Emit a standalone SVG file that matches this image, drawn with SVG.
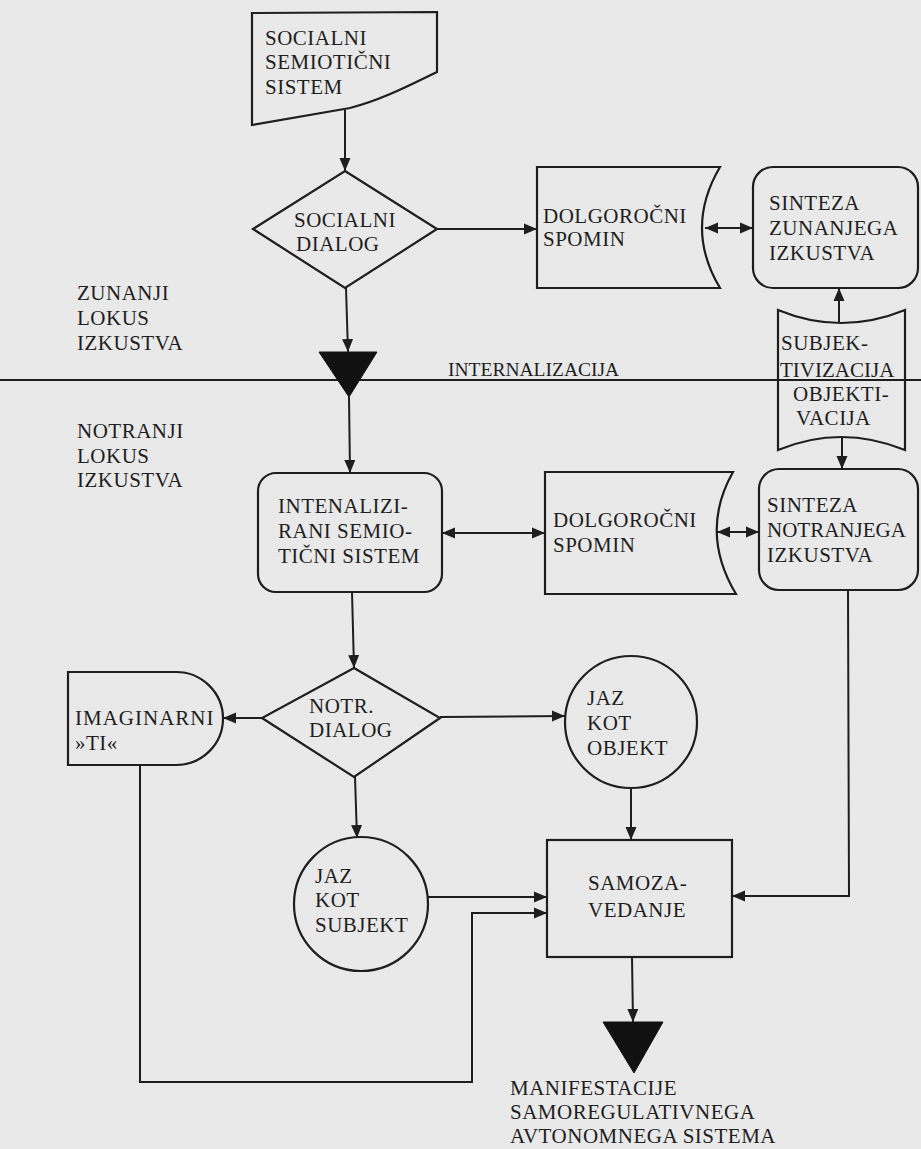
<svg xmlns="http://www.w3.org/2000/svg" width="921" height="1149" viewBox="0 0 921 1149">
<defs>
<style>
.bg{fill:#e9e9e9}
.s{fill:none;stroke:#1e1e1e;stroke-width:2.2}
.t{font-family:"Liberation Serif","Times New Roman",serif;font-size:21px;letter-spacing:0.5px;fill:#1e1e1e}
.c{fill:none;stroke:#1e1e1e;stroke-width:2}
.tri{fill:#111;stroke:#111;stroke-width:1}
</style>
<marker id="ah" markerWidth="13" markerHeight="13" viewBox="0 0 13 13" refX="13" refY="6.5" orient="auto-start-reverse" markerUnits="userSpaceOnUse">
<path d="M0,1 L13,6.5 L0,12 Z" fill="#1e1e1e"/>
</marker>
</defs>
<rect class="bg" x="0" y="0" width="921" height="1149"/>

<g id="divider">
<line class="c" x1="0" y1="380" x2="921" y2="380"/>
<text class="t" x="448" y="376" style="font-size:19.5px;letter-spacing:0">INTERNALIZACIJA</text>
</g>

<g id="label-zunanji">
<text class="t" x="77" y="300">ZUNANJI</text>
<text class="t" x="77" y="325">LOKUS</text>
<text class="t" x="77" y="350">IZKUSTVA</text>
</g>
<g id="label-notranji">
<text class="t" x="77" y="438">NOTRANJI</text>
<text class="t" x="77" y="463">LOKUS</text>
<text class="t" x="77" y="487">IZKUSTVA</text>
</g>

<g id="socialni-semioticni-sistem">
<path class="s" d="M252,13 L437,12 L437,72 C412,84 382,100 350,108 L252,125 Z"/>
<text class="t" x="265" y="45">SOCIALNI</text>
<text class="t" x="265" y="69">SEMIOTIČNI</text>
<text class="t" x="265" y="94">SISTEM</text>
</g>

<g id="socialni-dialog">
<path class="s" d="M345,171 L437,229 L345,288 L253,229 Z"/>
<text class="t" x="294" y="227">SOCIALNI</text>
<text class="t" x="296" y="251">DIALOG</text>
</g>

<g id="dolgorocni-spomin-1">
<path class="s" d="M537,167 L720,167 Q684,228 720,288 L537,288 Z"/>
<text class="t" x="543" y="223">DOLGOROČNI</text>
<text class="t" x="543" y="246">SPOMIN</text>
</g>

<g id="sinteza-zunanjega">
<rect class="s" x="753" y="167" width="165" height="121" rx="20"/>
<text class="t" x="769" y="210">SINTEZA</text>
<text class="t" x="769" y="235">ZUNANJEGA</text>
<text class="t" x="769" y="260">IZKUSTVA</text>
</g>

<g id="subjektivizacija">
<path class="s" d="M778,310 Q841,336 905,310 L905,450 Q841,424 778,450 Z"/>
<text class="t" x="781" y="350">SUBJEK-</text>
<text class="t" x="780" y="377" style="letter-spacing:0">TIVIZACIJA</text>
<text class="t" x="793" y="401">OBJEKTI-</text>
<text class="t" x="796" y="425">VACIJA</text>
</g>

<g id="internalizacija-triangle">
<path class="tri" d="M319,352 L377,352 L349,397 Z"/>
</g>

<g id="intenalizirani">
<rect class="s" x="258" y="473" width="184" height="119" rx="18"/>
<text class="t" x="278" y="513">INTENALIZI-</text>
<text class="t" x="278" y="538">RANI SEMIO-</text>
<text class="t" x="278" y="563">TIČNI SISTEM</text>
</g>

<g id="dolgorocni-spomin-2">
<path class="s" d="M545,472 L733,472 Q699,532 736,594 L545,594 Z"/>
<text class="t" x="553" y="527">DOLGOROČNI</text>
<text class="t" x="553" y="552">SPOMIN</text>
</g>

<g id="sinteza-notranjega">
<rect class="s" x="759" y="469" width="159" height="121" rx="20"/>
<text class="t" x="767" y="512">SINTEZA</text>
<text class="t" x="767" y="537" style="letter-spacing:0">NOTRANJEGA</text>
<text class="t" x="767" y="562">IZKUSTVA</text>
</g>

<g id="notr-dialog">
<path class="s" d="M354,668 L440,718 L354,777 L262,718 Z"/>
<text class="t" x="309" y="713">NOTR.</text>
<text class="t" x="309" y="737">DIALOG</text>
</g>

<g id="imaginarni-ti">
<path class="s" d="M68,672 L176,672 A47,46.5 0 0 1 176,765 L68,765 Z"/>
<text class="t" x="75" y="725" style="letter-spacing:1px">IMAGINARNI</text>
<text class="t" x="75" y="750">»TI«</text>
</g>

<g id="jaz-kot-objekt">
<circle class="s" cx="631" cy="722" r="66"/>
<text class="t" x="587" y="705">JAZ</text>
<text class="t" x="587" y="730">KOT</text>
<text class="t" x="587" y="755">OBJEKT</text>
</g>

<g id="jaz-kot-subjekt">
<circle class="s" cx="361" cy="904" r="67"/>
<text class="t" x="315" y="883">JAZ</text>
<text class="t" x="315" y="907">KOT</text>
<text class="t" x="315" y="932">SUBJEKT</text>
</g>

<g id="samozavedanje">
<rect class="s" x="547" y="840" width="185" height="117"/>
<text class="t" x="588" y="890">SAMOZA-</text>
<text class="t" x="588" y="917">VEDANJE</text>
</g>

<g id="manifestacije-triangle">
<path class="tri" d="M603,1022 L663,1022 L634,1073 Z"/>
</g>

<g id="manifestacije">
<text class="t" x="510" y="1095">MANIFESTACIJE</text>
<text class="t" x="510" y="1119">SAMOREGULATIVNEGA</text>
<text class="t" x="510" y="1143">AVTONOMNEGA SISTEMA</text>
</g>

<g id="connectors">
<path class="c" d="M345,110 L345,171" marker-end="url(#ah)"/>
<path class="c" d="M437,229 L537,229" marker-end="url(#ah)"/>
<path class="c" d="M705,228 L753,228" marker-start="url(#ah)" marker-end="url(#ah)"/>
<path class="c" d="M839,322 L839,288" marker-end="url(#ah)"/>
<path class="c" d="M842,437 L842,469" marker-end="url(#ah)"/>
<path class="c" d="M346,288 L348,352" marker-end="url(#ah)"/>
<path class="c" d="M349,397 L350,473" marker-end="url(#ah)"/>
<path class="c" d="M442,533 L545,533" marker-start="url(#ah)" marker-end="url(#ah)"/>
<path class="c" d="M717,532 L759,532" marker-start="url(#ah)" marker-end="url(#ah)"/>
<path class="c" d="M352,592 L354,668" marker-end="url(#ah)"/>
<path class="c" d="M262,718 L223,718" marker-end="url(#ah)"/>
<path class="c" d="M440,717 L565,716" marker-end="url(#ah)"/>
<path class="c" d="M355,777 L357,838" marker-end="url(#ah)"/>
<path class="c" d="M631,788 L631,840" marker-end="url(#ah)"/>
<path class="c" d="M428,897 L547,897" marker-end="url(#ah)"/>
<path class="c" d="M140,765 L140,1082 L472,1082 L472,913 L547,913" marker-end="url(#ah)"/>
<path class="c" d="M848,590 L849,896 L732,896" marker-end="url(#ah)"/>
<path class="c" d="M632,957 L633,1022" marker-end="url(#ah)"/>
</g>
</svg>
